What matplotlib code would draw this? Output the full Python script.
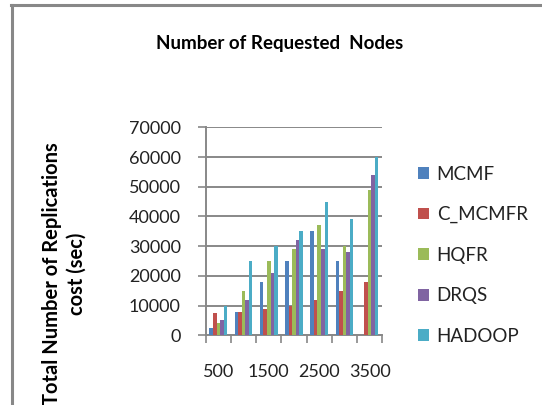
import matplotlib
matplotlib.use("Agg")
import matplotlib.pyplot as plt
import numpy as np

plt.rcParams['font.family'] = ['Lato', 'DejaVu Sans']

# data
nodes = [500, 1000, 1500, 2000, 2500, 3000, 3500]
series = ["MCMF", "C_MCMFR", "HQFR", "DRQS", "HADOOP"]
mcmf = [2500, 8000, 18000, 25000, 35000, 25000, 0]
c_mcmfr = [7500, 8000, 9000, 10000, 12000, 15000, 18000]
hqfr = [4000, 15000, 25000, 29000, 37000, 30000, 49000]
drqs = [5000, 12000, 21000, 32000, 29000, 28000, 54000]
hadoop = [10000, 25000, 30000, 35000, 45000, 39000, 60000]
colors = ["#4F81BD", "#C0504D", "#9BBB59", "#8064A2", "#4BACC6"]

values = [mcmf, c_mcmfr, hqfr, drqs, hadoop]

fig = plt.figure(figsize=(5.42, 4.05), dpi=100)
ax = fig.add_axes([0.3795, 0.1721, 0.3258, 0.5136])

x = np.arange(len(nodes))
w = 0.14
for i, (name, vals) in enumerate(zip(series, values)):
    ax.bar(x + (i - 2) * w, vals, width=w, color=colors[i], label=name, zorder=3)

grid_c = "#888888"
ax.set_ylim(0, 70000)
ax.set_yticks(range(0, 70001, 10000))
ax.set_xlim(-0.5, len(nodes) - 0.5)
ax.yaxis.grid(True, color=grid_c, linewidth=1.4, zorder=0)
ax.set_xticks(np.arange(len(nodes) + 1) - 0.5, minor=False)
ax.set_xticklabels([])
ax.tick_params(axis="x", length=6, color=grid_c, width=1.2)
ax.tick_params(axis="y", length=6, color=grid_c, width=1.2, pad=12, labelsize=13,
               labelcolor="#222222")
for s in ["top", "right"]:
    ax.spines[s].set_visible(False)
for s in ["left", "bottom"]:
    ax.spines[s].set_color(grid_c)
    ax.spines[s].set_linewidth(1.4)

# category labels every other group
for i in range(0, len(nodes), 2):
    ax.text(x[i], -0.175, str(nodes[i]), transform=ax.get_xaxis_transform(),
            ha="center", va="center", fontsize=13, color="#222222")

fig.text(0.515, 0.893, "Number of Requested  Nodes", ha="center", va="center",
         fontsize=13.5, fontweight="bold")
fig.text(0.118, 0.325, "Total Number of Replications\ncost (sec)", rotation=90,
         ha="center", va="center", fontsize=14.5, fontweight="bold",
         multialignment="center", linespacing=1.3)

ax.legend(loc="center left", bbox_to_anchor=(0.74, 0.37), bbox_transform=fig.transFigure,
          frameon=False, fontsize=13.5, handlelength=0.6, handleheight=0.6,
          handletextpad=0.4, labelspacing=1.25, labelcolor="#222222")

# outer frame (top and left edges)
fig.add_artist(plt.Line2D([0.021, 1.0], [0.988, 0.988], color=grid_c, linewidth=2.2,
                          transform=fig.transFigure))
fig.add_artist(plt.Line2D([0.022, 0.022], [0.0, 0.988], color=grid_c, linewidth=2.2,
                          transform=fig.transFigure))

fig.savefig("out.png", dpi=100)
